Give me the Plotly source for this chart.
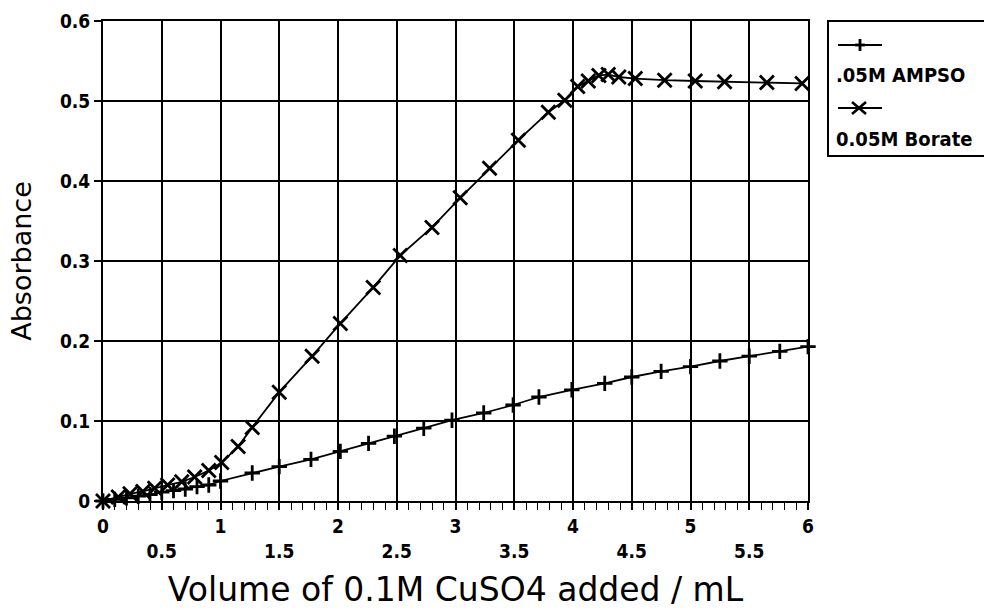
import plotly.graph_objects as go

# ---------------- data ----------------
ampso_x = [0, 0.1, 0.2, 0.3, 0.4, 0.5, 0.6, 0.7, 0.8, 0.9, 1.0, 1.27, 1.50, 1.77,
           2.02, 2.26, 2.48, 2.73, 2.97, 3.24, 3.49, 3.71, 3.99, 4.27, 4.50, 4.75,
           5.00, 5.25, 5.50, 5.76, 6.0]
ampso_y = [0, 0.002, 0.004, 0.006, 0.008, 0.011, 0.013, 0.015, 0.018, 0.020, 0.025,
           0.035, 0.043, 0.052, 0.062, 0.072, 0.081, 0.091, 0.101, 0.110, 0.120,
           0.130, 0.139, 0.147, 0.155, 0.162, 0.168, 0.175, 0.181, 0.187, 0.193]

borate_x = [0, 0.13, 0.23, 0.34, 0.44, 0.55, 0.67, 0.78, 0.90, 1.01, 1.15, 1.27,
            1.50, 1.78, 2.02, 2.30, 2.53, 2.80, 3.04, 3.29, 3.535, 3.79, 3.93, 4.04,
            4.13, 4.22, 4.30, 4.39, 4.53, 4.78, 5.04, 5.29, 5.65, 5.95]
borate_y = [0, 0.005, 0.009, 0.012, 0.016, 0.020, 0.024, 0.030, 0.038, 0.048, 0.068,
            0.092, 0.136, 0.181, 0.222, 0.267, 0.307, 0.342, 0.379, 0.416, 0.451,
            0.486, 0.501, 0.518, 0.525, 0.532, 0.533, 0.530, 0.528, 0.526, 0.525,
            0.524, 0.523, 0.522]

x_grid = [0, 0.5, 1, 1.5, 2, 2.5, 3, 3.5, 4, 4.5, 5, 5.5, 6]
x_major_labels = ["0", "", "1", "", "2", "", "3", "", "4", "", "5", "", "6"]
x_half = [0.5, 1.5, 2.5, 3.5, 4.5, 5.5]
x_half_labels = ["0.5", "1.5", "2.5", "3.5", "4.5", "5.5"]
y_ticks = [0, 0.1, 0.2, 0.3, 0.4, 0.5, 0.6]
y_labels = ["0", "0.1", "0.2", "0.3", "0.4", "0.5", "0.6"]

series_names = [".05M AMPSO", "0.05M Borate"]

# ---------------- figure ----------------
TICKFONT = dict(family="DejaVu Sans Condensed, DejaVu Sans", size=19, color="black", weight="bold")
TITLEFONT = dict(family="DejaVu Sans", size=33, color="black")

fig = go.Figure()
fig.add_trace(go.Scatter(
    x=ampso_x, y=ampso_y, mode="lines+markers", name=series_names[0],
    line=dict(color="black", width=1.8),
    marker=dict(symbol="cross-thin", size=11, color="black", line=dict(color="black", width=2.8)),
    cliponaxis=False, showlegend=False))
fig.add_trace(go.Scatter(
    x=borate_x, y=borate_y, mode="lines+markers", name=series_names[1],
    line=dict(color="black", width=1.8),
    marker=dict(symbol="x-thin", size=14, color="black", line=dict(color="black", width=2.8)),
    cliponaxis=False, showlegend=False))

# plot area in pixels
L, R, T, B = 103, 808, 21, 501
W, H = 984, 609

def px(xp):
    return (xp - L) / (R - L)

def py(yp):
    return (B - yp) / (B - T)

fig.update_layout(
    width=W, height=H,
    margin=dict(l=L, r=W - R, t=T, b=H - B, autoexpand=False),
    paper_bgcolor="white", plot_bgcolor="white",
    showlegend=False,
    xaxis=dict(
        range=[0, 6], tickmode="array", tickvals=x_grid, ticktext=x_major_labels,
        showgrid=True, gridcolor="black", gridwidth=1.8,
        showline=True, linecolor="black", linewidth=2, mirror=True,
        ticks="outside", ticklen=7, tickwidth=1.5, tickcolor="black",
        minor=dict(dtick=0.1, ticks="outside", ticklen=7, tickwidth=1.3, tickcolor="black", showgrid=False),
        tickfont=TICKFONT, zeroline=False, automargin=False,
        title=dict(text="Volume of 0.1M CuSO4 added / mL", font=TITLEFONT, standoff=44),
    ),
    xaxis2=dict(
        range=[0, 6], overlaying="x", side="bottom", anchor="y",
        tickmode="array", tickvals=x_half, ticktext=x_half_labels,
        showgrid=False, showline=False, ticks="", zeroline=False,
        tickfont=TICKFONT, ticklabelstandoff=37, automargin=False,
    ),
    yaxis=dict(
        range=[0, 0.6], tickmode="array", tickvals=y_ticks, ticktext=y_labels,
        showgrid=True, gridcolor="black", gridwidth=1.8,
        showline=True, linecolor="black", linewidth=2, mirror=True,
        ticks="outside", ticklen=7, tickwidth=1.5, tickcolor="black",
        tickfont=TICKFONT, zeroline=False, automargin=False,
        title=dict(text="Absorbance", font=dict(family="DejaVu Sans", size=27, color="black"), standoff=20),
    ),
)

# an invisible anchor trace so xaxis2 is drawn
fig.add_trace(go.Scatter(x=[0, 6], y=[None, None], xaxis="x2", mode="markers",
                         showlegend=False, hoverinfo="skip"))

# ---------------- hand-drawn legend box (symbol above text) ----------------
shapes = []
shapes.append(dict(type="rect", xref="paper", yref="paper",
                   x0=px(828), x1=px(1000), y0=py(156), y1=py(21),
                   line=dict(color="black", width=2), fillcolor="rgba(0,0,0,0)"))
# AMPSO sample
yl1 = 45
shapes.append(dict(type="line", xref="paper", yref="paper", x0=px(838), x1=px(882),
                   y0=py(yl1), y1=py(yl1), line=dict(color="black", width=1.8)))
shapes.append(dict(type="line", xref="paper", yref="paper", x0=px(860), x1=px(860),
                   y0=py(yl1 - 6), y1=py(yl1 + 6), line=dict(color="black", width=2.8)))
shapes.append(dict(type="line", xref="paper", yref="paper", x0=px(855), x1=px(865),
                   y0=py(yl1), y1=py(yl1), line=dict(color="black", width=2.8)))
# Borate sample
yl2 = 108
shapes.append(dict(type="line", xref="paper", yref="paper", x0=px(838), x1=px(882),
                   y0=py(yl2), y1=py(yl2), line=dict(color="black", width=1.8)))
shapes.append(dict(type="line", xref="paper", yref="paper", x0=px(852), x1=px(866),
                   y0=py(yl2 - 6), y1=py(yl2 + 6), line=dict(color="black", width=2.6)))
shapes.append(dict(type="line", xref="paper", yref="paper", x0=px(852), x1=px(866),
                   y0=py(yl2 + 6), y1=py(yl2 - 6), line=dict(color="black", width=2.6)))
fig.update_layout(shapes=shapes)

LEGFONT = dict(family="DejaVu Sans Condensed, DejaVu Sans", size=20, color="black", weight="bold")
fig.add_annotation(xref="paper", yref="paper", x=px(834), y=py(75), text=series_names[0],
                   showarrow=False, xanchor="left", yanchor="middle", font=LEGFONT)
fig.add_annotation(xref="paper", yref="paper", x=px(834), y=py(139), text=series_names[1],
                   showarrow=False, xanchor="left", yanchor="middle", font=LEGFONT)

fig.write_html("out.html", config={"displayModeBar": False},
               post_script="document.body.style.margin='0';")
